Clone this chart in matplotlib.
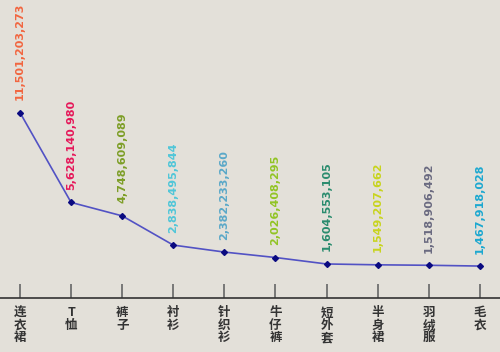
import matplotlib
matplotlib.use("Agg")
import matplotlib.pyplot as plt

categories = ["连衣裙", "T恤", "裤子", "衬衫", "针织衫", "牛仔裤", "短外套", "半身裙", "羽绒服", "毛衣"]
values = [11501203273, 5628140980, 4748609089, 2838495844, 2382233260,
          2026408295, 1604553105, 1549207662, 1518906492, 1467918028]
label_colors = ["#f26640", "#e6185a", "#7d9e26", "#50c6d8", "#5aa8c8",
                "#92c424", "#2a8c6e", "#c8d41e", "#6a6a80", "#1ca8d0"]

bg = "#e3e0d9"
fig = plt.figure(figsize=(5, 3.52), dpi=100, facecolor=bg)
ax = fig.add_axes([0, 0, 1, 1])
ax.set_facecolor(bg)

x = list(range(len(categories)))
v = [val / 1e9 for val in values]
ax.plot(x, v, color="#5252c4", lw=1.2, marker="D", ms=3,
        mfc="#0a0a80", mec="#0a0a80", zorder=3)

for xi, vi, val, c in zip(x, v, values, label_colors):
    ax.annotate(f"{val:,}", (xi, vi), xytext=(0, 9), textcoords="offset points",
                rotation=90, ha="center", va="bottom", color=c,
                fontsize=8, fontweight="bold", family="DejaVu Sans")

ax.set_xlim(-0.391, 9.394)
ax.set_ylim(-4.15, 18.86)

for s in ["top", "right", "left"]:
    ax.spines[s].set_visible(False)
ax.spines["bottom"].set_position(("data", -0.62))
ax.spines["bottom"].set_color("#333333")
ax.spines["bottom"].set_linewidth(1.2)
ax.set_yticks([])
ax.set_xticks(x)
ax.set_xticklabels(["\n".join(c) for c in categories],
                   family=["Noto Sans CJK SC", "DejaVu Sans"], fontweight="bold",
                   fontsize=9, color="#333333", linespacing=0.95)
ax.tick_params(axis="x", direction="in", length=10, width=1.2, color="#666666", pad=6)

fig.savefig("out.png", dpi=100, facecolor=bg)
